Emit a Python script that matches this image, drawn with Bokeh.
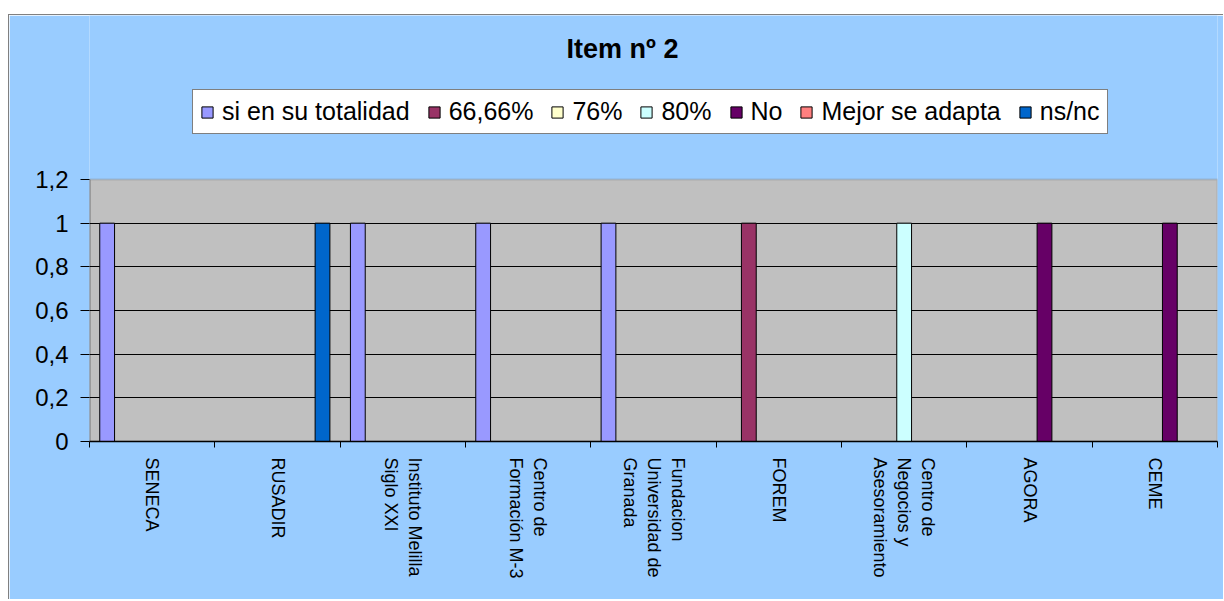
import math
from bokeh.plotting import figure
from bokeh.models import (Range1d, LinearAxis, FixedTicker, BoxAnnotation, Label,
                          CustomJSTickFormatter, ColumnDataSource)
from bokeh.transform import dodge
from bokeh.embed import file_html
from bokeh.resources import INLINE

# ---------------- data ----------------
categories = [
    "SENECA",
    "RUSADIR",
    "Instituto Melilla\nSiglo XXI",
    "Centro de\nFormación M-3",
    "Fundacion\nUniversidad de\nGranada",
    "FOREM",
    "Centro de\nNegocios y\nAsesoramiento",
    "AGORA",
    "CEME",
]
series_names = ["si en su totalidad", "66,66%", "76%", "80%", "No", "Mejor se adapta", "ns/nc"]
si_en_su_totalidad = [1, 0, 1, 1, 1, 0, 0, 0, 0]
pct_66_66 = [0, 0, 0, 0, 0, 1, 0, 0, 0]
pct_76 = [0, 0, 0, 0, 0, 0, 0, 0, 0]
pct_80 = [0, 0, 0, 0, 0, 0, 1, 0, 0]
no = [0, 0, 0, 0, 0, 0, 0, 1, 1]
mejor_se_adapta = [0, 0, 0, 0, 0, 0, 0, 0, 0]
ns_nc = [0, 1, 0, 0, 0, 0, 0, 0, 0]
y_ticks = [0, 0.2, 0.4, 0.6, 0.8, 1.0, 1.2]
y_max = 1.2
title_text = "Item nº 2"

series_values = [si_en_su_totalidad, pct_66_66, pct_76, pct_80, no, mejor_se_adapta, ns_nc]
colors = ["#9999FF", "#993366", "#FFFFCC", "#CCFFFF", "#660066", "#FF8080", "#0066CC"]

FONT = "Liberation Sans"
n = len(categories)

data = {"x": [i + 0.5 for i in range(n)]}
keys = []
for i, vals in enumerate(series_values):
    k = f"s{i}"
    keys.append(k)
    data[k] = vals
source = ColumnDataSource(data)

# geometry: the frame spans the whole chart height; the grey plot area is y in [0, y_max]
FRAME_H = 426          # px, from chart top to the x axis
PLOT_H = 262           # px, height of the grey plot area
y_top = y_max * FRAME_H / PLOT_H

p = figure(
    width=1215, height=585,
    x_range=Range1d(0, n),
    y_range=Range1d(0, y_top),
    output_backend="svg", toolbar_location=None,
    min_border_left=80, min_border_right=7, min_border_top=0, min_border_bottom=159,
    background_fill_color="#99CCFF", border_fill_color="#99CCFF",
    outline_line_color=None,
)
p.styles = {"margin-top": "14px", "margin-left": "8px",
            "border-top": "1px solid #808080", "border-left": "1px solid #808080"}

# grey plot area
p.add_layout(BoxAnnotation(bottom=0, top=y_max, fill_color="#C0C0C0", fill_alpha=1,
                           line_color="#808080", line_width=2, level="image"))
# black value-axis line along the left edge of the plot area
p.add_layout(BoxAnnotation(left=0, right=0, bottom=0, top=y_max, fill_alpha=0,
                           line_color="black", line_width=2, level="underlay"))

# bars
bar_w = 0.118
step = 0.1197
for i, k in enumerate(keys):
    p.vbar(x=dodge("x", (i - 3) * step), top=k, width=bar_w, source=source,
           fill_color=colors[i], line_color="black", line_width=1, legend_label=series_names[i])

# grid
p.xgrid.visible = False
p.ygrid.grid_line_color = "black"
p.ygrid.grid_line_width = 1
p.ygrid.ticker = FixedTicker(ticks=[t for t in y_ticks if 0 < t < y_max])

# y axis
ya = p.yaxis[0]
ya.ticker = FixedTicker(ticks=y_ticks)
ya.formatter = CustomJSTickFormatter(code="var s = (Math.round(tick*10)/10).toString(); return s.replace('.', ',');")
ya.major_label_text_font = FONT
ya.major_label_text_font_size = "24px"
ya.major_label_text_color = "black"
ya.axis_line_color = None
ya.major_tick_line_color = "black"
ya.major_tick_out = 9
ya.major_tick_in = 0
ya.minor_tick_line_color = None
ya.major_label_standoff = 12

# x axis: ticks at category boundaries, no labels
xa = p.xaxis[0]
xa.ticker = FixedTicker(ticks=list(range(n + 1)))
xa.formatter = CustomJSTickFormatter(code="return '';")
xa.major_label_text_font_size = "1px"
xa.axis_line_color = "black"
xa.axis_line_width = 1.5
xa.major_tick_line_color = "black"
xa.major_tick_out = 6
xa.major_tick_in = 0
xa.minor_tick_line_color = None
xa.major_label_standoff = 0

# category label axis
cat_axis = LinearAxis(ticker=FixedTicker(ticks=[i + 0.5 for i in range(n)]),
                      formatter=CustomJSTickFormatter(args=dict(labels=categories),
                                                      code="return labels[Math.floor(tick)];"),
                      axis_line_color=None, major_tick_line_color=None, minor_tick_line_color=None,
                      major_label_orientation=-math.pi / 2,
                      major_label_text_align="center",
                      major_label_text_font=FONT, major_label_text_font_size="18px",
                      major_label_text_color="black", major_label_standoff=4)
p.add_layout(cat_axis, "below")

# legend
lg = p.legend[0]
lg.orientation = "horizontal"
lg.location = (103, 307)
lg.margin = 0
lg.padding = 7
lg.spacing = 17
lg.label_standoff = 8
lg.glyph_width = 14
lg.glyph_height = 14
lg.label_text_font = FONT
lg.label_text_font_size = "25px"
lg.label_text_color = "black"
lg.border_line_color = "black"
lg.border_line_width = 1
lg.background_fill_color = "white"
lg.background_fill_alpha = 1

# title
p.add_layout(Label(x=533, y=393, x_units="screen", y_units="screen", text=title_text,
                   text_font=FONT, text_font_size="27px", text_font_style="bold",
                   text_align="center", text_baseline="middle", text_color="black"))

open("out.html", "w").write(file_html(p, INLINE))
